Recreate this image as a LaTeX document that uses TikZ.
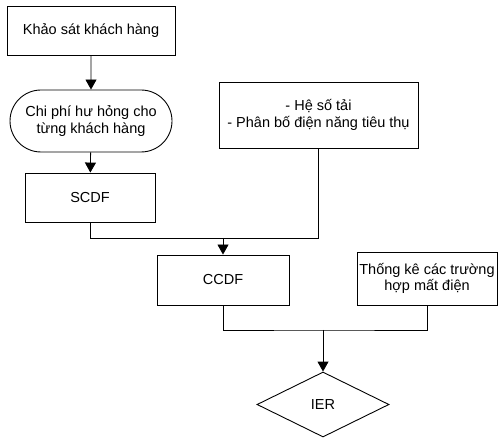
\documentclass[tikz,border=0pt]{standalone}
\usepackage{fontspec}
\setmainfont{Liberation Sans}
\usetikzlibrary{shapes.misc, shapes.geometric, arrows.meta}
\begin{document}
\begin{tikzpicture}[x = 1pt, y = -1pt,
		box/.style = {draw, line width = .9pt, inner sep = 2pt, align = center,
			font = \fontsize{14.5}{16.5}\selectfont},
		conn/.style = {line width = .9pt},
		arr/.style = {conn, -{Triangle[width = 11pt, length = 10pt]}}]
		\useasboundingbox (0, 0) rectangle (498, 438);
		% blocks
		\node[box, minimum width = 168, minimum height = 49] (survey) at (91, 30.5) {Khảo sát khách hàng};
		\node[box, shape = rounded rectangle, minimum width = 166, minimum height = 62] (cost) at (91, 121) {Chi phí hư hỏng cho\\từng khách hàng};
		\node[box, minimum width = 130, minimum height = 49] (scdf) at (90, 197.5) {SCDF};
		\node[box, minimum width = 199, minimum height = 66] (load) at (318.5, 115) {- Hệ số tải\\- Phân bố điện năng tiêu thụ};
		\node[box, minimum width = 132, minimum height = 50] (ccdf) at (223, 280) {CCDF};
		\node[box, minimum width = 140, minimum height = 53] (outage) at (427, 278.5) {Thống kê các trường\\hợp mất điện};
		\node[box, shape = diamond, inner sep = 0pt, minimum width = 132, minimum height = 65] (ier) at (323, 404.5) {IER};
		% joins
		\coordinate (j1) at (223, 238);
		\coordinate (j2) at (323, 330);
		\draw[arr] (survey) -- (cost);
		\draw[arr] (cost) -- (scdf);
		\draw[conn] (scdf.south) |- (j1);
		\draw[conn] (load.south) |- (j1);
		\draw[arr] (j1) -- (ccdf.north);
		\draw[conn] (ccdf.south) |- (j2) -| (outage.south);
		\draw[arr] (j2) -- (ier.north);
\end{tikzpicture}
\end{document}
